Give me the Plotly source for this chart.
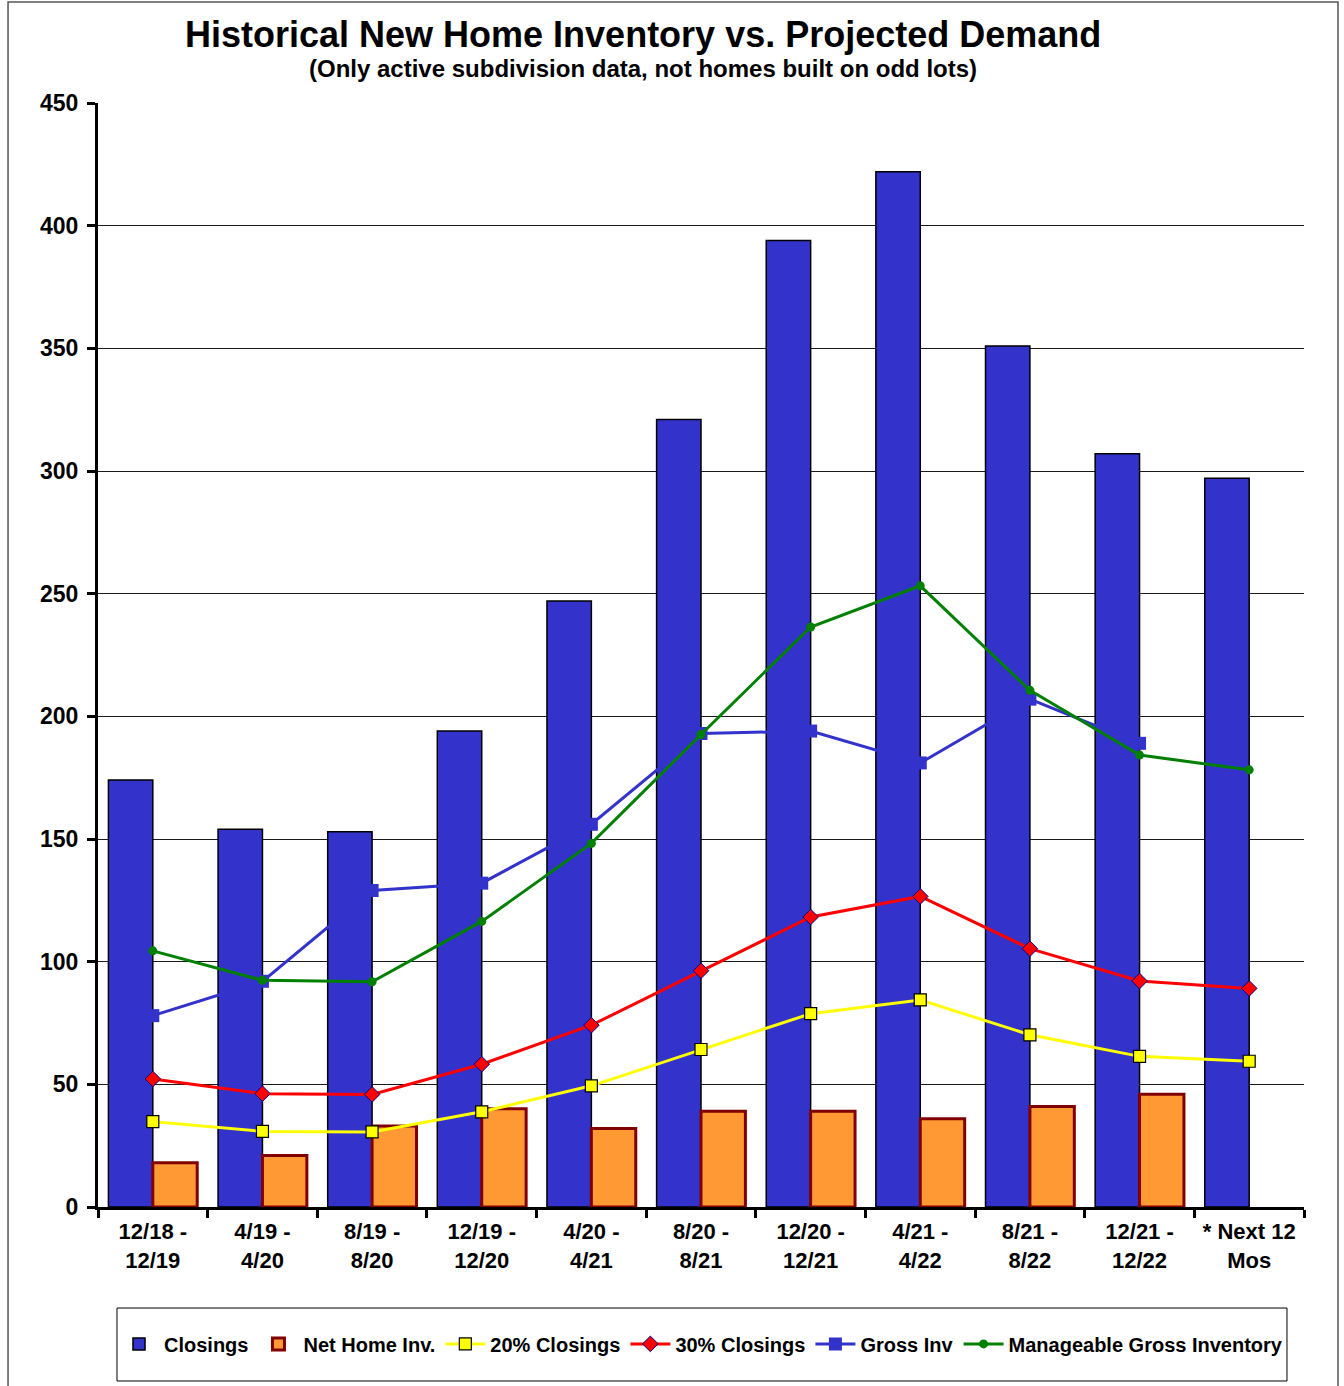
import plotly.graph_objects as go

# Period labels (x categories)
periods = [
    "12/18 -<br>12/19", "4/19 -<br>4/20", "8/19 -<br>8/20", "12/19 -<br>12/20",
    "4/20 -<br>4/21", "8/20 -<br>8/21", "12/20 -<br>12/21", "4/21 -<br>4/22",
    "8/21 -<br>8/22", "12/21 -<br>12/22", "* Next 12<br>Mos",
]

# Series values
closings = [174, 154, 153, 194, 247, 321, 394, 422, 351, 307, 297]
net_home_inv = [18, 21, 33, 40, 32, 39, 39, 36, 41, 46, None]
closings_20 = [34.8, 30.8, 30.6, 38.8, 49.4, 64.2, 78.8, 84.4, 70.2, 61.4, 59.4]
closings_30 = [52.2, 46.2, 45.9, 58.2, 74.1, 96.3, 118.2, 126.6, 105.3, 92.1, 89.1]
gross_inv = [78, 92, 129, 132, 156, 193, 194, 181, 207, 189, None]
manageable_gross = [104.4, 92.4, 91.8, 116.4, 148.2, 192.6, 236.4, 253.2, 210.6, 184.2, 178.2]

y_ticks = [0, 50, 100, 150, 200, 250, 300, 350, 400, 450]

FONT = "Liberation Sans, Arial, sans-serif"
BLUE = "#3333CC"

fig = go.Figure()

fig.add_trace(go.Bar(
    name="<b>Closings</b>", x=periods, y=closings,
    marker=dict(color=BLUE, line=dict(color="#000000", width=1.5)),
))
fig.add_trace(go.Bar(
    name="<b>Net Home Inv.</b>", x=periods, y=net_home_inv,
    marker=dict(color="#FF9933", line=dict(color="#800000", width=3)),
))
fig.add_trace(go.Scatter(
    name="<b>20% Closings</b>", x=periods, y=closings_20, mode="lines+markers",
    line=dict(color="#FFFF00", width=3),
    marker=dict(symbol="square", size=12, color="#FFFF00",
                line=dict(color="#000000", width=1.2)),
))
fig.add_trace(go.Scatter(
    name="<b>30% Closings</b>", x=periods, y=closings_30, mode="lines+markers",
    line=dict(color="#FF0000", width=3),
    marker=dict(symbol="diamond", size=12, color="#FF0000",
                line=dict(color="#000080", width=1)),
))
fig.add_trace(go.Scatter(
    name="<b>Gross Inv</b>", x=periods, y=gross_inv, mode="lines+markers",
    line=dict(color=BLUE, width=3),
    marker=dict(symbol="square", size=13, color=BLUE),
))
fig.add_trace(go.Scatter(
    name="<b>Manageable Gross Inventory</b>", x=periods, y=manageable_gross,
    mode="lines+markers",
    line=dict(color="#008000", width=3),
    marker=dict(symbol="circle", size=9, color="#008000"),
))

fig.update_layout(
    width=1344, height=1386,
    margin=dict(l=98, r=40, t=103, b=179),
    paper_bgcolor="white", plot_bgcolor="white",
    barmode="group", bargap=0.19, bargroupgap=0,
    font=dict(family=FONT, color="#000000"),
    showlegend=True,
    legend=dict(
        orientation="h", x=0.5, xanchor="center", y=-0.124, yanchor="middle",
        font=dict(family=FONT, size=20, color="#000000"),
        bgcolor="rgba(0,0,0,0)", borderwidth=0,
        itemwidth=40, tracegroupgap=0,
    ),
    xaxis=dict(
        type="category", range=[-0.5, 10.5],
        tickson="boundaries", ticks="outside", ticklen=8,
        tickwidth=3, tickcolor="#000000",
        showline=True, linecolor="#000000", linewidth=3,
        showgrid=False, tickangle=0, ticklabelstandoff=3,
        tickfont=dict(family=FONT, size=22, color="#000000"),
        ticktext=[f"<b>{p}</b>" for p in periods], tickvals=periods,
    ),
    yaxis=dict(
        range=[0, 450], tickvals=y_ticks,
        ticktext=[f"<b>{v}</b>" for v in y_ticks],
        ticks="outside", ticklen=8, tickwidth=3, tickcolor="#000000",
        showline=True, linecolor="#000000", linewidth=3,
        showgrid=True, gridcolor="#1a1a1a", gridwidth=1,
        zeroline=False, ticklabelstandoff=4,
        tickfont=dict(family=FONT, size=23, color="#000000"),
    ),
    annotations=[
        dict(text="<b>Historical New Home Inventory vs. Projected Demand</b>",
             xref="paper", yref="paper", x=0.4519, y=1.0616,
             xanchor="center", yanchor="middle", showarrow=False,
             font=dict(family=FONT, size=36, color="#000000")),
        dict(text="<b>(Only active subdivision data, not homes built on odd lots)</b>",
             xref="paper", yref="paper", x=0.4519, y=1.0308,
             xanchor="center", yanchor="middle", showarrow=False,
             font=dict(family=FONT, size=24, color="#000000")),
    ],
    shapes=[
        # outer chart frame
        dict(type="rect", xref="paper", yref="paper",
             x0=-0.0746, x1=1.0282, y0=-0.165, y1=1.0915,
             line=dict(color="#555555", width=1.5), layer="below"),
        # legend box
        dict(type="rect", xref="paper", yref="paper",
             x0=0.01575, x1=0.9859, y0=-0.1576, y1=-0.0915,
             line=dict(color="#000000", width=1), layer="below"),
    ],
)

fig.write_html("out.html")
